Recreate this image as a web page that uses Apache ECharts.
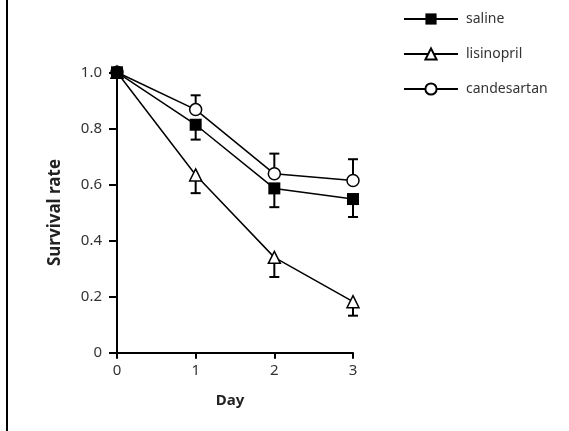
<!DOCTYPE html>
<html>
<head>
<meta charset="utf-8">
<script src="https://cdn.jsdelivr.net/npm/echarts@6/dist/echarts.min.js"></script>
<style>html,body{margin:0;padding:0;background:#fff}#c{width:569px;height:431px}</style>
</head>
<body>
<div id="c"></div>
<script>
const days = [0, 1, 2, 3];
const seriesNames = ['saline', 'lisinopril', 'candesartan'];
const saline = [1.0, 0.813, 0.586, 0.548];
const salineErr = [0, 0.053, 0.067, 0.064];
const lisinopril = [1.0, 0.634, 0.340, 0.182];
const lisinoprilErr = [0, 0.065, 0.070, 0.050];
const candesartan = [1.0, 0.867, 0.638, 0.614];
const candesartanErr = [0, 0.051, 0.072, 0.076];
const yTicks = ['0', '0.2', '0.4', '0.6', '0.8', '1.0'];
const xTicks = ['0', '1', '2', '3'];

const FONT = 'Noto Sans';
const pts = (vals) => days.map((d, i) => [d, vals[i]]);
const errPts = (vals, errs) => days.map((d, i) => [d, vals[i], errs[i]]).filter(p => p[2] > 0);

function errRender(dir) {
  return function (params, api) {
    const x = api.value(0), y = api.value(1), e = api.value(2);
    const p0 = api.coord([x, y]);
    const p1 = api.coord([x, y + dir * e]);
    const st = { stroke: '#000', lineWidth: 2 };
    return {
      type: 'group',
      children: [
        { type: 'line', shape: { x1: p0[0], y1: p0[1], x2: p1[0], y2: p1[1] }, style: st },
        { type: 'line', shape: { x1: p1[0] - 5, y1: p1[1], x2: p1[0] + 5, y2: p1[1] }, style: st }
      ]
    };
  };
}

const chart = echarts.init(document.getElementById('c'), null, { renderer: 'canvas' });
const lineBase = {
  type: 'line',
  symbolSize: 12,
  lineStyle: { color: '#000', width: 1.5 },
  emphasis: { disabled: true },
  animation: false
};
chart.setOption({
  animation: false,
  backgroundColor: '#fff',
  textStyle: { fontFamily: FONT },
  grid: { left: 117, right: 216, top: 72.3, bottom: 78.3 },
  legend: {
    data: seriesNames,
    orient: 'vertical',
    left: 403,
    top: 12,
    padding: 0,
    itemWidth: 54,
    itemHeight: 14,
    itemGap: 21,
    lineStyle: { width: 2 },
    textStyle: { fontFamily: FONT, fontSize: 14, color: '#333', lineHeight: 14, padding: [0, 0, 0, 3] }
  },
  xAxis: {
    type: 'value', min: 0, max: 3, interval: 1,
    name: 'Day', nameLocation: 'middle', nameGap: 41,
    nameTextStyle: { fontFamily: FONT, fontSize: 15, fontWeight: 'bold', color: '#222', padding: [0, 10, 0, 0] },
    axisLine: { show: true, lineStyle: { color: '#000', width: 2 } },
    axisTick: { show: true, length: 6, lineStyle: { color: '#000', width: 2 } },
    axisLabel: { fontFamily: FONT, fontSize: 15, color: '#333', margin: 11, formatter: (v) => xTicks[Math.round(v)] },
    splitLine: { show: false }
  },
  yAxis: {
    type: 'value', min: 0, max: 1, interval: 0.2,
    name: 'Survival rate', nameLocation: 'middle', nameGap: 53,
    nameTextStyle: { fontFamily: FONT, fontSize: 17, fontWeight: 'bold', color: '#222' },
    axisLine: { show: true, lineStyle: { color: '#000', width: 2 } },
    axisTick: { show: true, length: 8, lineStyle: { color: '#000', width: 2 } },
    axisLabel: { fontFamily: FONT, fontSize: 15, color: '#333', margin: 15, formatter: (v) => yTicks[Math.round(v * 5)] },
    splitLine: { show: false }
  },
  graphic: [
    { type: 'line', shape: { x1: 7, y1: 0, x2: 7, y2: 431 }, style: { stroke: '#000', lineWidth: 2 } }
  ],
  series: [
    { type: 'custom', name: 'err-l', z: 1, renderItem: errRender(-1), data: errPts(lisinopril, lisinoprilErr), silent: true },
    { type: 'custom', name: 'err-c', z: 1, renderItem: errRender(1), data: errPts(candesartan, candesartanErr), silent: true },
    { type: 'custom', name: 'err-s', z: 1, renderItem: errRender(-1), data: errPts(saline, salineErr), silent: true },
    Object.assign({}, lineBase, { name: 'lisinopril', z: 2, symbol: 'triangle', data: pts(lisinopril),
      itemStyle: { color: '#fff', borderColor: '#000', borderWidth: 1.5 } }),
    Object.assign({}, lineBase, { name: 'candesartan', z: 3, symbol: 'circle', data: pts(candesartan),
      itemStyle: { color: '#fff', borderColor: '#000', borderWidth: 1.5 } }),
    Object.assign({}, lineBase, { name: 'saline', z: 4, symbol: 'rect', data: pts(saline),
      itemStyle: { color: '#000', borderColor: '#000', borderWidth: 0 } })
  ]
});
</script>
</body>
</html>
